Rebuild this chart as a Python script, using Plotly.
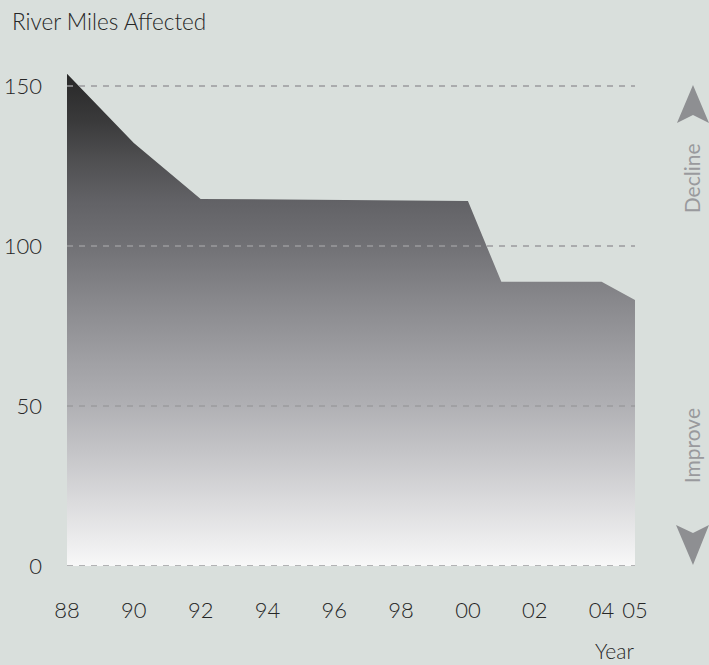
import plotly.graph_objects as go

# River miles affected by year
years = [1988, 1990, 1992, 1995, 2000, 2001, 2004, 2005]
miles = [153.8, 132.2, 114.7, 114.4, 114.1, 88.8, 88.8, 83.1]

# Axis ticks
x_tick_vals = [1988, 1990, 1992, 1994, 1996, 1998, 2000, 2002, 2004, 2005]
x_tick_text = ["88", "90", "92", "94", "96", "98", "00", "02", "04", "05"]
y_tick_vals = [0, 50, 100, 150]

BG = "#d9dfdc"
TEXT = "#262626"
FONT = "Lato"
WEIGHT = 300

# vertical fill gradient: light at zero, near-black at the peak
grad_stop = 155
grad_colors = [
    (0, "#f8f8f8"),
    (8, "#ececed"),
    (20.6, "#dadadc"),
    (36, "#c4c4c7"),
    (52.5, "#adadb1"),
    (64, "#a0a0a4"),
    (83, "#88888c"),
    (101.6, "#6f6f73"),
    (114, "#626266"),
    (127, "#4f4f51"),
    (139, "#3a3a3b"),
    (155, "#262626"),
]
colorscale = [[v / grad_stop, c] for v, c in grad_colors]

fig = go.Figure()
fig.add_trace(go.Scatter(
    x=years, y=miles,
    mode="lines",
    line=dict(width=0),
    fill="tozeroy",
    fillgradient=dict(type="vertical", colorscale=colorscale, start=0, stop=grad_stop),
    hoverinfo="skip",
    showlegend=False,
))

# dashed reference lines drawn over the area
for v in y_tick_vals:
    fig.add_shape(type="line", xref="x", yref="y", x0=1988, x1=2005, y0=v, y1=v,
                  line=dict(color="#9a9b9d", width=1.5, dash="6px,6px"), layer="above")

# direction arrows on the right
def chevron(tip, left, notch, right):
    return (f"M {tip[0]},{tip[1]} L {right[0]},{right[1]} L {notch[0]},{notch[1]} "
            f"L {left[0]},{left[1]} Z")

ARROW = "#8e8f92"
fig.add_shape(type="path", xref="paper", yref="paper",
              path=chevron((1.1021, 0.9395), (1.0739, 0.8652), (1.1021, 0.8809), (1.1303, 0.8652)),
              fillcolor=ARROW, line=dict(width=0))
fig.add_shape(type="path", xref="paper", yref="paper",
              path=chevron((1.1021, 0.0020), (1.0722, 0.0801), (1.1021, 0.0645), (1.1303, 0.0801)),
              fillcolor=ARROW, line=dict(width=0))

label_font = dict(family=FONT, size=21, color="#999a9d", weight=400)
fig.add_annotation(text="Decline", xref="paper", yref="paper", x=1.099, y=(566 - 178) / 512,
                   textangle=-90, showarrow=False, font=label_font,
                   xanchor="center", yanchor="middle")
fig.add_annotation(text="Improve", xref="paper", yref="paper", x=1.099, y=(566 - 446) / 512,
                   textangle=-90, showarrow=False, font=label_font,
                   xanchor="center", yanchor="middle")

fig.add_annotation(text="Year", xref="paper", yref="paper", x=(614 - 67) / 568, y=(566 - 650) / 512,
                   showarrow=False, font=dict(family=FONT, size=21, color=TEXT, weight=WEIGHT),
                   xanchor="center", yanchor="middle")

fig.update_layout(
    width=709, height=665,
    margin=dict(l=67, r=74, t=54, b=99, autoexpand=False),
    paper_bgcolor=BG, plot_bgcolor=BG,
    title=dict(text="River Miles Affected", xref="container", yref="container",
               x=12 / 709, y=1 - 22 / 665, xanchor="left", yanchor="middle",
               font=dict(family=FONT, size=22.5, color=TEXT, weight=WEIGHT)),
    xaxis=dict(range=[1988, 2005], tickvals=x_tick_vals, ticktext=x_tick_text,
               showgrid=False, zeroline=False, showline=False, ticks="",
               automargin=False, ticklabelstandoff=29,
               tickfont=dict(family=FONT, size=22, color=TEXT, weight=WEIGHT)),
    yaxis=dict(range=[0, 160], tickvals=y_tick_vals, showgrid=False, zeroline=False,
               showline=False, ticks="", automargin=False, ticklabelstandoff=24,
               tickfont=dict(family=FONT, size=22, color=TEXT, weight=WEIGHT)),
    showlegend=False,
)

fig.write_html("out.html")
